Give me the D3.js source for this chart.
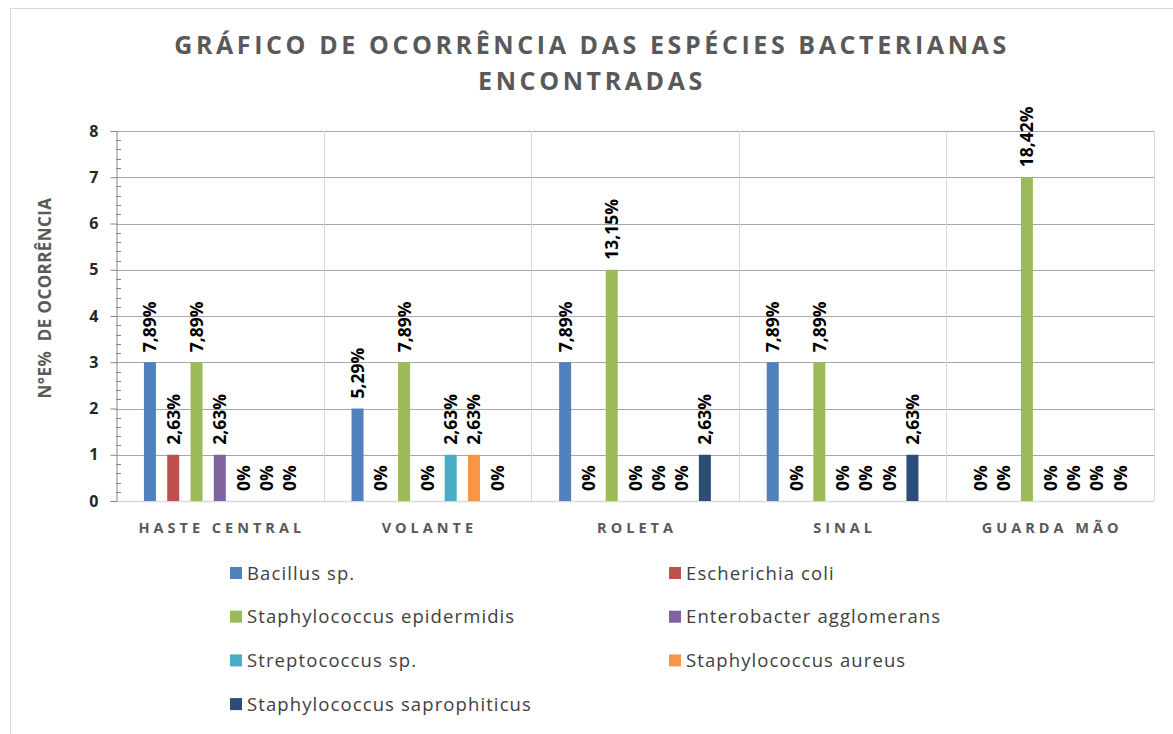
<!DOCTYPE html>
<html lang="en">
<head>
<meta charset="UTF-8">
<title>Gráfico de ocorrência das espécies bacterianas</title>
<script src="https://d3js.org/d3.v7.min.js"></script>
<style>
  body { margin: 0; background: #fff; }
  svg { display: block; }
</style>
</head>
<body>
<svg width="1173" height="734"></svg>
<script>
// Data
const categories = ["HASTE CENTRAL", "VOLANTE", "ROLETA", "SINAL", "GUARDA MÃO"];
const species = [
  "Bacillus sp.", "Escherichia coli", "Staphylococcus epidermidis",
  "Enterobacter agglomerans", "Streptococcus sp.", "Staphylococcus aureus",
  "Staphylococcus saprophiticus"
];
const colors = ["#4F81BD", "#C0504D", "#9BBB59", "#8064A2", "#4BACC6", "#F79646", "#2C4D75"];

// counts per species, one value per category
const counts = [
  [3, 2, 3, 3, 0],
  [1, 0, 0, 0, 0],
  [3, 3, 5, 3, 7],
  [1, 0, 0, 0, 0],
  [0, 1, 0, 0, 0],
  [0, 1, 0, 0, 0],
  [0, 0, 1, 1, 0]
];
// percent labels shown above bars
const pctLabels = [
  ["7,89%", "5,29%", "7,89%", "7,89%", "0%"],
  ["2,63%", "0%", "0%", "0%", "0%"],
  ["7,89%", "7,89%", "13,15%", "7,89%", "18,42%"],
  ["2,63%", "0%", "0%", "0%", "0%"],
  ["0%", "2,63%", "0%", "0%", "0%"],
  ["0%", "2,63%", "0%", "0%", "0%"],
  ["0%", "0%", "2,63%", "2,63%", "0%"]
];
const yTicks = [0, 1, 2, 3, 4, 5, 6, 7, 8];

const svg = d3.select("svg");
const margin = { left: 116, right: 1154, top: 131, bottom: 501 };

// outer chart border
svg.append("rect")
  .attr("x", 10.5).attr("y", 8.5)
  .attr("width", 1180).attr("height", 740)
  .attr("fill", "none").attr("stroke", "#d9d9d9");

const x0 = d3.scaleBand().domain(categories).range([margin.left, margin.right]);
const x1 = d3.scaleBand().domain(d3.range(species.length))
  .range([34 - 6, x0.bandwidth() - 34 + 6]).paddingInner(0.49).paddingOuter(0);
const y = d3.scaleLinear().domain([0, 8]).range([margin.bottom, margin.top]);

// title
const title = svg.append("text")
  .attr("text-anchor", "middle")
  .attr("font-family", "Open Sans, sans-serif")
  .attr("font-weight", "bold")
  .attr("font-size", 25)
  .attr("letter-spacing", 3.6)
  .attr("fill", "#595959");
title.append("tspan").attr("x", 592).attr("y", 54).text("GRÁFICO DE OCORRÊNCIA DAS ESPÉCIES BACTERIANAS");
title.append("tspan").attr("x", 592).attr("y", 90).text("ENCONTRADAS");

// horizontal gridlines
svg.append("g").selectAll("line")
  .data(yTicks.filter(d => d > 0))
  .join("line")
  .attr("x1", margin.left).attr("x2", margin.right)
  .attr("y1", d => Math.round(y(d)) + 0.5).attr("y2", d => Math.round(y(d)) + 0.5)
  .attr("stroke", "#a6a6a6");

// vertical category gridlines
svg.append("g").selectAll("line")
  .data(categories.slice(1).concat(["end"]))
  .join("line")
  .attr("x1", (d, i) => Math.round(margin.left + x0.bandwidth() * (i + 1)) + 0.5)
  .attr("x2", (d, i) => Math.round(margin.left + x0.bandwidth() * (i + 1)) + 0.5)
  .attr("y1", margin.top).attr("y2", margin.bottom)
  .attr("stroke", "#d9d9d9");

// baseline
svg.append("line")
  .attr("x1", margin.left).attr("x2", margin.right)
  .attr("y1", margin.bottom + 0.5).attr("y2", margin.bottom + 0.5)
  .attr("stroke", "#d9d9d9").attr("stroke-width", 1.5);

// y axis
const yAxis = svg.append("g")
  .attr("transform", `translate(${margin.left + 0.5},0)`)
  .call(d3.axisLeft(y).tickValues(yTicks).tickSize(6).tickPadding(12));
yAxis.select(".domain").attr("stroke", "#868686");
yAxis.selectAll(".tick line").attr("stroke", "#868686");
yAxis.selectAll("text")
  .attr("font-family", "Open Sans, sans-serif")
  .attr("font-weight", "bold")
  .attr("font-size", 16)
  .attr("fill", "#262626");

// minor ticks on inside of the axis
svg.append("g").selectAll("line")
  .data(d3.range(0, 8.001, 0.2).filter(d => Math.abs(d - Math.round(d)) > 0.01))
  .join("line")
  .attr("x1", margin.left).attr("x2", margin.left + 5)
  .attr("y1", d => Math.round(y(d)) + 0.5).attr("y2", d => Math.round(y(d)) + 0.5)
  .attr("stroke", "#868686");

// y axis title
svg.append("text")
  .attr("transform", "translate(51,298) rotate(-90)")
  .attr("text-anchor", "middle")
  .attr("font-family", "Open Sans, sans-serif")
  .attr("font-weight", "bold")
  .attr("font-size", 17)
  .attr("letter-spacing", 0.4)
  .attr("fill", "#595959")
  .attr("xml:space", "preserve")
  .text("N°E%  DE OCORRÊNCIA");

// bars and labels
const rows = [];
categories.forEach((c, ci) => {
  species.forEach((s, si) => {
    rows.push({ cat: c, si, value: counts[si][ci], label: pctLabels[si][ci] });
  });
});

const barW = 12;
const groups = svg.append("g");
groups.selectAll("rect")
  .data(rows.filter(d => d.value > 0))
  .join("rect")
  .attr("x", d => x0(d.cat) + x1(d.si) + x1.bandwidth() / 2 - barW / 2)
  .attr("width", barW)
  .attr("y", d => y(d.value))
  .attr("height", d => y(0) - y(d.value))
  .attr("fill", d => colors[d.si]);

groups.selectAll("text")
  .data(rows)
  .join("text")
  .attr("transform", d => {
    const cx = x0(d.cat) + x1(d.si) + x1.bandwidth() / 2;
    return `translate(${cx + 6.5},${y(d.value) - 10}) rotate(-90)`;
  })
  .attr("font-family", "Open Sans, sans-serif")
  .attr("font-weight", "bold")
  .attr("font-size", 17.5)
  .attr("fill", "#000")
  .text(d => d.label);

// category labels
svg.append("g").selectAll("text")
  .data(categories)
  .join("text")
  .attr("x", d => x0(d) + x0.bandwidth() / 2 + 2)
  .attr("y", 533)
  .attr("text-anchor", "middle")
  .attr("font-family", "Open Sans, sans-serif")
  .attr("font-weight", "bold")
  .attr("font-size", 14.5)
  .attr("letter-spacing", 4)
  .attr("fill", "#595959")
  .text(d => d);

// legend
const legend = svg.append("g");
const item = legend.selectAll("g")
  .data(species)
  .join("g")
  .attr("transform", (d, i) => `translate(${i % 2 === 0 ? 230 : 669},${573 + Math.floor(i / 2) * 43.7})`);
item.append("rect")
  .attr("x", 0).attr("y", -6)
  .attr("width", 12).attr("height", 12)
  .attr("fill", (d, i) => colors[i]);
item.append("text")
  .attr("x", 17).attr("y", 6.5)
  .attr("font-family", "Open Sans, sans-serif")
  .attr("font-size", 18.5)
  .attr("letter-spacing", 1.1)
  .attr("fill", "#404040")
  .text(d => d);
</script>
</body>
</html>
